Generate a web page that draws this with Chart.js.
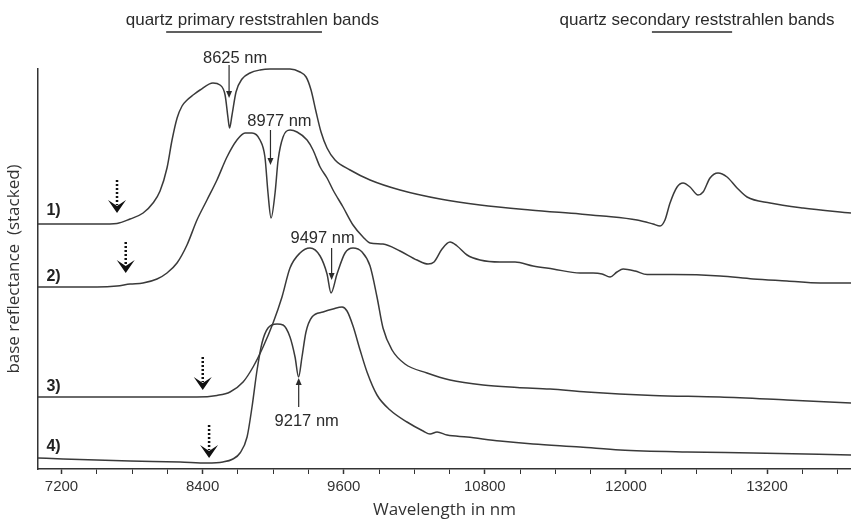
<!DOCTYPE html>
<html lang="en">
<head>
<meta charset="UTF-8">
<title>Quartz reststrahlen bands</title>
<script src="https://cdn.jsdelivr.net/npm/chart.js"></script>
<style>
    body {
        margin: 0;
        background: #fff;
        overflow: hidden;
    }
    .chart-box {
        width: 851px;
        height: 524px;
    }
</style>
</head>
<body>
<div class="chart-box"><canvas id="specChart"></canvas></div>
<script>
// spectra: wavelength (nm) and stacked reflectance (arbitrary units)
const wl1 = [7000, 7527, 7672, 7783, 7894, 7978, 8038, 8097, 8140, 8183, 8225, 8268, 8319, 8378, 8488, 8548, 8591, 8616, 8629, 8650, 8684, 8735, 8803, 8888, 8973, 9143, 9228, 9280, 9322, 9365, 9407, 9458, 9526, 9654, 9824, 10079, 10420, 10759, 11184, 11610, 11805, 12095, 12231, 12290, 12332, 12375, 12435, 12486, 12545, 12613, 12656, 12715, 12783, 12860, 12945, 13030, 13226, 13506, 13914];
const refl1 = [61.25, 61.25, 61.4, 62.5, 64, 66.5, 69.5, 75.25, 82.25, 87.75, 90.75, 92.25, 93.5, 94.75, 96.5, 96, 93.5, 87.75, 85.25, 88.5, 94.25, 97.5, 99, 99.75, 100, 100, 99.25, 98, 94.75, 89.25, 84.25, 80.25, 77.25, 74.75, 72.25, 69.75, 67.5, 66, 64.75, 63.75, 63.25, 62.25, 61.25, 60.75, 62.25, 66.5, 70.5, 71.5, 70.5, 68.5, 69.25, 72.75, 74, 73, 70.25, 68, 66.5, 65.25, 64];

const wl2 = [7000, 7502, 7672, 7783, 7893, 8012, 8097, 8182, 8267, 8352, 8437, 8522, 8607, 8692, 8761, 8820, 8888, 8930, 8956, 8982, 9016, 9042, 9084, 9144, 9203, 9288, 9339, 9399, 9458, 9509, 9594, 9679, 9764, 9824, 9934, 10079, 10223, 10317, 10368, 10436, 10504, 10564, 10649, 10759, 10929, 11057, 11210, 11380, 11610, 11720, 11797, 11865, 11924, 11976, 12078, 12180, 12401, 12800, 13081, 13370, 13651, 13914];
const refl2 = [45.5, 45.5, 45.75, 46.25, 46.5, 47.5, 49, 51.5, 56, 62.25, 67.25, 72.25, 78, 82.25, 84, 84, 82.25, 78, 69, 62.75, 69, 77.25, 83, 84.75, 84.25, 82.25, 79.75, 75.5, 72.75, 69.75, 65.5, 61, 58, 56.5, 56.25, 54.5, 52.25, 51.25, 51.75, 55, 56.75, 55.75, 53.5, 52.25, 51.75, 51.75, 50.75, 50, 49, 49, 48.75, 48, 49.25, 50, 49.5, 48.6, 48.6, 48.25, 47.5, 47, 46.5, 46.5];

const wl3 = [7000, 7783, 8352, 8522, 8633, 8744, 8829, 8914, 8999, 9075, 9143, 9228, 9313, 9399, 9458, 9492, 9543, 9611, 9679, 9756, 9824, 9883, 9934, 10011, 10121, 10308, 10504, 10785, 11074, 11355, 11669, 12231, 12800, 13370, 13914];
const refl3 = [18, 18, 18, 18.4, 19.25, 21.75, 25.5, 30.5, 36.5, 43, 50.25, 54, 55.25, 53.25, 48.75, 44, 48.75, 54, 55.25, 54.25, 50.75, 43, 35.25, 29.75, 26.25, 24, 22.25, 21, 20.4, 20, 19.25, 18.4, 18, 17.25, 16.5];

const wl4 = [7000, 7213, 7783, 8208, 8437, 8573, 8658, 8718, 8778, 8820, 8863, 8905, 8956, 9033, 9084, 9143, 9186, 9216, 9245, 9279, 9330, 9424, 9509, 9586, 9628, 9679, 9739, 9798, 9883, 9994, 10138, 10275, 10334, 10394, 10479, 10649, 10929, 11210, 11610, 11950, 12520, 13081, 13914];
const refl4 = [2.75, 2.5, 2, 1.75, 1.5, 1.75, 2.5, 4, 8, 15.5, 24.75, 31.5, 35.25, 36.25, 36, 33, 28, 23, 28, 34.25, 38, 39.25, 40, 40.5, 39.5, 35.75, 29.75, 24.25, 18.5, 14.75, 11.75, 9.5, 8.75, 9.25, 8.5, 8, 7, 6.25, 5.5, 4.75, 4.25, 4, 3.5];

// axis ticks
const majorTicks = [7200, 8400, 9600, 10800, 12000, 13200];
const minorStep = 300;

// sample labels and where they sit
const sampleTags = ['1)', '2)', '3)', '4)'];
const sampleTagY = [64.5, 48, 20.5, 5.5];

// dotted arrows (wavelength, start, end)
const dotArrowNm = [7672, 7746, 8401, 8455];
const dotArrowFrom = [72.25, 56.75, 28, 11];
const dotArrowTo = [64, 49, 19.75, 2.75];

// band minima annotations
const peakNotes = [
    { text: '8625 nm', nm: 8625, from: 101, to: 92.75, textY: 102.75, dx: 6 },
    { text: '8977 nm', nm: 8977, from: 84.75, to: 76, textY: 87, dx: 9 },
    { text: '9497 nm', nm: 9497, from: 55.25, to: 47.25, textY: 57.75, dx: -9 },
    { text: '9217 nm', nm: 9217, from: 15.5, to: 22.75, textY: 12, dx: 8 }
];

const bandHeaders = [
    { text: 'quartz primary reststrahlen bands', center: 8823, from: 8090, to: 9415 },
    { text: 'quartz secondary reststrahlen bands', center: 12605, from: 12221, to: 12903 }
];

const xTickValues = [];
for (let v = majorTicks[0]; v <= 13800; v += minorStep) xTickValues.push(v);

function toPoints(xs, ys) {
    return xs.map((v, i) => ({ x: v, y: ys[i] }));
}

function makeSet(xs, ys) {
    return {
        data: toPoints(xs, ys),
        borderColor: '#3a3a3a',
        borderWidth: 1.5,
        pointRadius: 0,
        fill: false,
        clip: false,
        cubicInterpolationMode: 'monotone'
    };
}

const notesPlugin = {
    id: 'figureNotes',
    afterDraw(chart) {
        const { ctx, scales: { x, y } } = chart;
        ctx.save();
        ctx.fillStyle = '#2b2b2b';
        ctx.strokeStyle = '#2b2b2b';

        // headers over the plot
        ctx.font = '17px "Liberation Sans", Arial, sans-serif';
        ctx.textAlign = 'center';
        ctx.textBaseline = 'middle';
        bandHeaders.forEach(b => {
            ctx.fillText(b.text, x.getPixelForValue(b.center), y.getPixelForValue(112.25));
            const ly = y.getPixelForValue(109.25);
            ctx.lineWidth = 1.3;
            ctx.beginPath();
            ctx.moveTo(x.getPixelForValue(b.from), ly);
            ctx.lineTo(x.getPixelForValue(b.to), ly);
            ctx.stroke();
        });

        // minima labels with thin arrows
        ctx.font = '16.5px "Liberation Sans", Arial, sans-serif';
        peakNotes.forEach(p => {
            const px = x.getPixelForValue(p.nm);
            const y0 = y.getPixelForValue(p.from);
            const y1 = y.getPixelForValue(p.to);
            const dir = y1 > y0 ? 1 : -1;
            ctx.fillText(p.text, px + p.dx, y.getPixelForValue(p.textY));
            ctx.lineWidth = 1.2;
            ctx.beginPath();
            ctx.moveTo(px, y0);
            ctx.lineTo(px, y1 - dir * 5);
            ctx.stroke();
            ctx.beginPath();
            ctx.moveTo(px, y1);
            ctx.lineTo(px - 3, y1 - dir * 7);
            ctx.lineTo(px + 3, y1 - dir * 7);
            ctx.closePath();
            ctx.fill();
        });

        // dotted arrows marking the onset
        ctx.fillStyle = '#111';
        ctx.strokeStyle = '#111';
        dotArrowNm.forEach((nm, i) => {
            const px = x.getPixelForValue(nm);
            const top = y.getPixelForValue(dotArrowFrom[i]);
            const tip = y.getPixelForValue(dotArrowTo[i]);
            ctx.lineWidth = 2.5;
            ctx.setLineDash([2, 2]);
            ctx.beginPath();
            ctx.moveTo(px, top);
            ctx.lineTo(px, tip - 8);
            ctx.stroke();
            ctx.setLineDash([]);
            ctx.beginPath();
            ctx.moveTo(px, tip);
            ctx.lineTo(px - 9, tip - 13);
            ctx.lineTo(px, tip - 7);
            ctx.lineTo(px + 9, tip - 13);
            ctx.closePath();
            ctx.fill();
        });

        // sample numbers
        ctx.fillStyle = '#222';
        ctx.font = 'bold 16px "Liberation Sans", Arial, sans-serif';
        ctx.textAlign = 'left';
        sampleTags.forEach((t, i) => {
            ctx.fillText(t, x.getPixelForValue(7072), y.getPixelForValue(sampleTagY[i]));
        });
        ctx.restore();
    }
};

new Chart(document.getElementById('specChart'), {
    type: 'line',
    data: {
        datasets: [
            makeSet(wl1, refl1),
            makeSet(wl2, refl2),
            makeSet(wl3, refl3),
            makeSet(wl4, refl4)
        ]
    },
    options: {
        responsive: true,
        maintainAspectRatio: false,
        animation: false,
        devicePixelRatio: 1,
        layout: { padding: { top: 69, left: 0, right: 0, bottom: 0 } },
        plugins: {
            legend: { display: false },
            tooltip: { enabled: false }
        },
        scales: {
            x: {
                type: 'linear',
                min: 7000,
                max: 13914,
                afterBuildTicks: (scale) => {
                    scale.ticks = xTickValues.map(v => ({ value: v }));
                },
                afterFit: (scale) => { scale.height = 55; },
                ticks: {
                    autoSkip: false,
                    maxRotation: 0,
                    padding: 4,
                    color: '#333',
                    font: { family: '"Liberation Sans", Arial, sans-serif', size: 15 },
                    callback: (value) => majorTicks.includes(value) ? String(value) : ''
                },
                grid: {
                    display: true,
                    drawOnChartArea: false,
                    drawTicks: true,
                    tickLength: 5,
                    tickColor: '#333',
                    tickWidth: (c) => majorTicks.includes(c.tick && c.tick.value) ? 1.5 : 1
                },
                border: { display: true, color: '#333', width: 1.5 },
                title: {
                    display: true,
                    text: 'Wavelength in nm',
                    color: '#333',
                    padding: { top: 4, bottom: 4 },
                    font: { family: '"Open Sans", sans-serif', size: 17 }
                }
            },
            y: {
                type: 'linear',
                min: 0,
                max: 100,
                afterFit: (scale) => { scale.width = 38; },
                ticks: { display: false },
                grid: { display: false },
                border: { display: true, color: '#333', width: 1.5 },
                title: {
                    display: true,
                    text: 'base reflectance  (stacked)',
                    color: '#333',
                    padding: { top: 4, bottom: 4 },
                    font: { family: '"Open Sans", sans-serif', size: 17 }
                }
            }
        }
    },
    plugins: [notesPlugin]
});
</script>
</body>
</html>
